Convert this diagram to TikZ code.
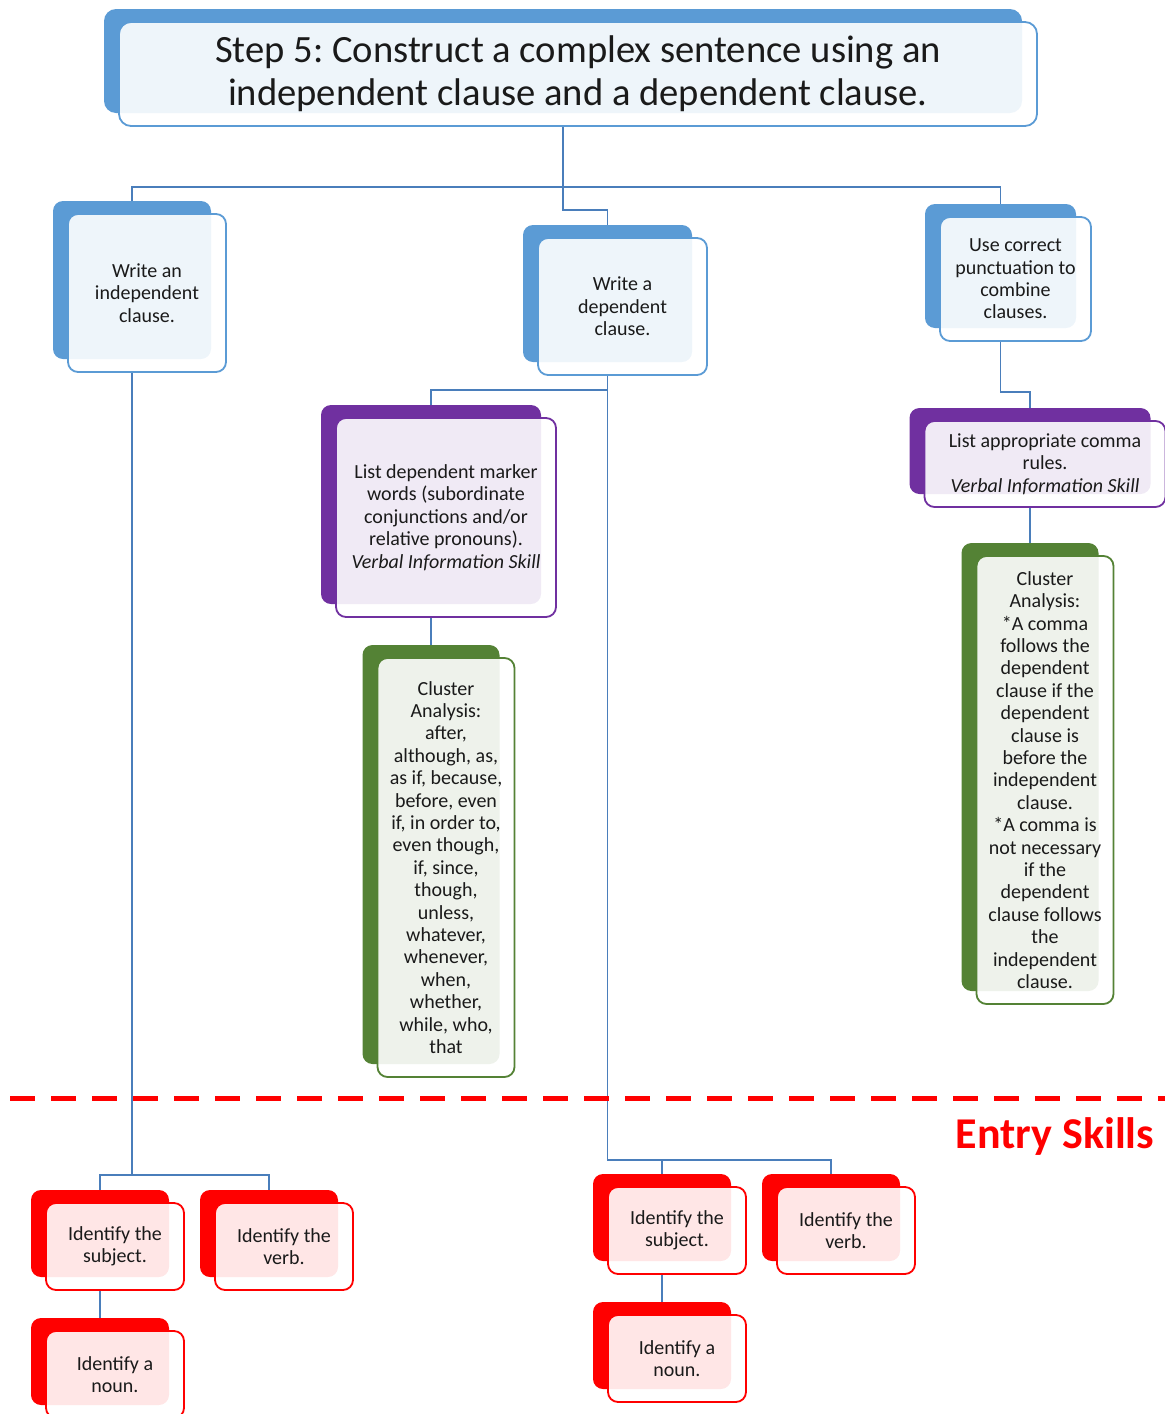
\documentclass[tikz,border=0pt]{standalone}
\usepackage{fontspec}
\setmainfont{Carlito}
\frenchspacing
\usetikzlibrary{shadows,backgrounds}
\definecolor{stepblue}{HTML}{5B9BD5}
\definecolor{steppurple}{HTML}{7030A0}
\definecolor{stepgreen}{HTML}{548235}
\definecolor{stepred}{HTML}{FF0000}
\definecolor{linkblue}{HTML}{4A7EBB}
\definecolor{ink}{HTML}{1A1A1A}
\newcommand{\cardfont}{\fontsize{10pt}{11.2pt}\selectfont}
\newcommand{\headfont}{\fontsize{19.3pt}{21.5pt}\selectfont}
\tikzset{
  card/.style={draw=#1,fill=white,fill opacity=0.9,text opacity=1,
               line width=0.9pt,rounded corners=5pt,align=center,
               inner sep=0pt,text=ink,font=\cardfont,
               copy shadow={shadow xshift=-7.5pt,shadow yshift=6.5pt,
                            fill=#1,draw=none,fill opacity=1}},
  bluecard/.style={card=stepblue},
  purplecard/.style={card=steppurple},
  greencard/.style={card=stepgreen},
  redcard/.style={card=stepred,minimum width=69pt,minimum height=43.5pt},
  headcard/.style={card=stepblue,font=\headfont,rounded corners=6pt},
  link/.style={draw=linkblue,line width=0.8pt},
  entryline/.style={draw=stepred,line width=2.5pt,dash pattern=on 12.5pt off 8pt},
  entrylabel/.style={text=stepred,font=\fontsize{22pt}{26pt}\bfseries\selectfont}
}

\begin{document}
\begin{tikzpicture}[x=0.5pt,y=-0.5pt]
    \useasboundingbox (0,0) rectangle (1165,1414);

    \node[headcard,minimum width=459pt,minimum height=52pt] (title) at (578,74)
      {Step 5: Construct a complex sentence using an\\
       independent clause and a dependent clause.};

    % main sub-skills
    \node[bluecard,minimum width=79pt,minimum height=79pt] (indep) at (147,293)
      {Write an\\ independent\\ clause.};
    \node[bluecard,minimum width=84.5pt,minimum height=68.5pt] (dep) at (622.5,306.5)
      {Write a\\ dependent\\ clause.};
    \node[bluecard,minimum width=75.5pt,minimum height=62pt] (punct) at (1015.5,279)
      {Use correct\\ punctuation to\\ combine\\ clauses.};

    % verbal information
    \node[purplecard,minimum width=110pt,minimum height=99.5pt] (markers) at (446,517.5)
      {List dependent marker\\ words (subordinate\\ conjunctions and/or\\
       relative pronouns).\\ \textit{Verbal Information Skill}};
    \node[purplecard,minimum width=120.5pt,minimum height=43pt] (rules) at (1045,464)
      {List appropriate comma\\ rules.\\ \textit{Verbal Information Skill}};

    % cluster analysis
    \node[greencard,minimum width=68.5pt,minimum height=209.5pt] (clusterA) at (446,867.5)
      {Cluster\\ Analysis:\\ after,\\ although, as,\\ as if, because,\\ before, even\\
       if, in order to,\\ even though,\\ if, since,\\ though,\\ unless,\\ whatever,\\
       whenever,\\ when,\\ whether,\\ while, who,\\ that};
    \node[greencard,minimum width=68.5pt,minimum height=224pt] (clusterB) at (1045,780)
      {Cluster\\ Analysis:\\ *A comma\\ follows the\\ dependent\\ clause if the\\
       dependent\\ clause is\\ before the\\ independent\\ clause.\\ *A comma is\\
       not necessary\\ if the\\ dependent\\ clause follows\\ the\\ independent\\ clause.};

    % entry skills
    \draw[entryline] (10,1098) -- (1165,1098);
    \node[entrylabel] (entry) at (1055,1137) {Entry Skills};

    \node[redcard] (subjA) at (115,1246.5) {Identify the\\ subject.};
    \node[redcard] (verbA) at (284,1246.5) {Identify the\\ verb.};
    \node[redcard] (nounA) at (115,1374.5) {Identify a\\ noun.};
    \node[redcard] (subjB) at (677,1230.5) {Identify the\\ subject.};
    \node[redcard] (verbB) at (846,1230.5) {Identify the\\ verb.};
    \node[redcard] (nounB) at (677,1358.5) {Identify a\\ noun.};

    \begin{scope}[on background layer]
      \coordinate (bus) at (563,187);
      \coordinate (drop) at (563,210);
      \coordinate (busA) at (132,1175);
      \coordinate (forkB) at (607.5,390);
      \coordinate (busB) at (607.5,1160);
      \coordinate (forkC) at (1000.5,392);
      \draw[link] ([xshift=-7.5pt]indep.north) |- (bus) -| ([xshift=-7.5pt]punct.north);
      \draw[link] ([xshift=-7.5pt]title.south) |- (drop) -| ([xshift=-7.5pt]dep.north);
      \draw[link] ([xshift=-7.5pt]indep.south) -- (busA);
      \draw[link] ([xshift=-7.5pt]subjA.north) |- (busA) -| ([xshift=-7.5pt]verbA.north);
      \draw[link] ([xshift=-7.5pt]subjA.south) -- ([xshift=-7.5pt]nounA.north);
      \draw[link] ([xshift=-7.5pt]dep.south) -- (busB) -| ([xshift=-7.5pt]verbB.north);
      \draw[link] ([xshift=-7.5pt]markers.north) |- (forkB);
      \draw[link] ([xshift=-7.5pt]markers.south) -- ([xshift=-7.5pt]clusterA.north);
      \draw[link] ([xshift=-7.5pt]subjB.north) |- (busB);
      \draw[link] ([xshift=-7.5pt]subjB.south) -- ([xshift=-7.5pt]nounB.north);
      \draw[link] ([xshift=-7.5pt]punct.south) |- (forkC) -| ([xshift=-7.5pt]rules.north);
      \draw[link] ([xshift=-7.5pt]rules.south) -- ([xshift=-7.5pt]clusterB.north);
    \end{scope}
\end{tikzpicture}
\end{document}
